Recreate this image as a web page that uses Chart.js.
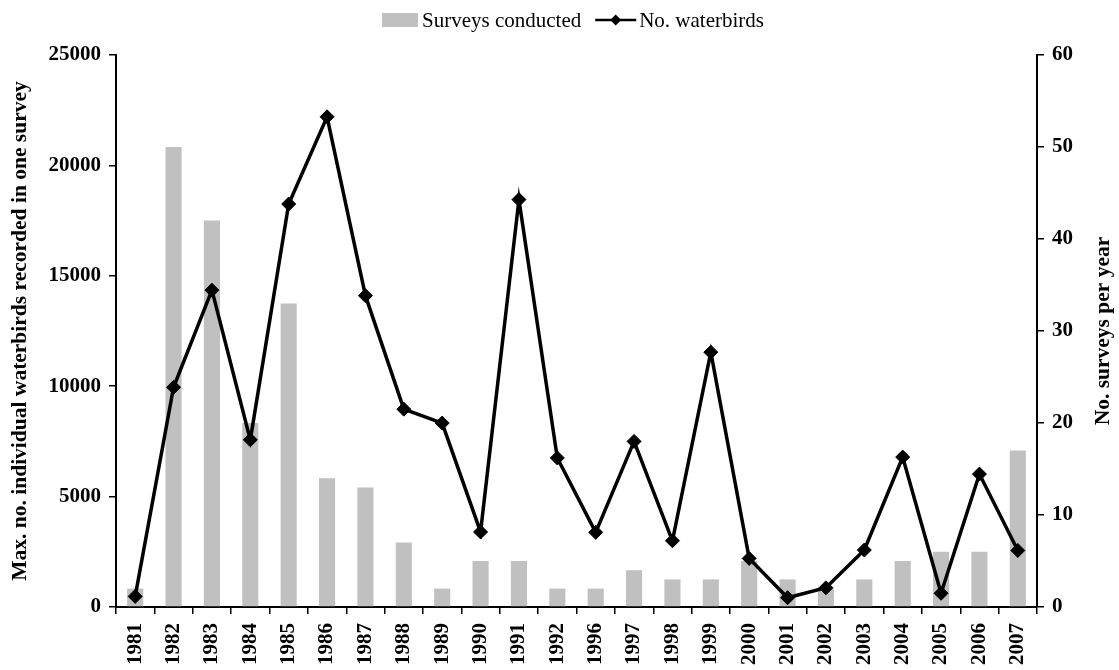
<!DOCTYPE html>
<html>
<head>
<meta charset="utf-8">
<script src="https://cdn.jsdelivr.net/npm/chart.js@4.4.1/dist/chart.umd.min.js"></script>
<style>
  html, body { margin: 0; padding: 0; background: #fff; }
  #wrap { width: 1119px; height: 670px; position: relative; }
</style>
</head>
<body>
<div id="wrap"><canvas id="waterbirdChart"></canvas></div>
<script>
const years = ['1981', '1982', '1983', '1984', '1985', '1986', '1987', '1988', '1989', '1990', '1991', '1992',
  '1996', '1997', '1998', '1999', '2000', '2001', '2002', '2003', '2004', '2005', '2006', '2007']
const surveysConducted = [2, 50, 42, 20, 33, 14, 13, 7, 2, 5, 5, 2, 2, 4, 3, 3, 5, 3, 2, 3, 5, 6, 6, 17]
const maxWaterbirds = [480, 9950, 14350, 7570, 18250, 22200, 14100, 8960, 8330, 3400, 18450, 6750,
  3380, 7500, 3000, 11540, 2200, 420, 870, 2580, 6790, 620, 6020, 2560]
const birdTicks = [0, 5000, 10000, 15000, 20000, 25000]
const surveyTicks = [0, 10, 20, 30, 40, 50, 60]

const serif = "'Liberation Serif', 'Times New Roman', serif"
const barGrey = '#c0c0c0'
const rightTitle = 'No. surveys per year'

// legend row across the top plus the right-hand axis title (reads bottom to top)
const extrasPlugin = {
  id: 'extras',
  afterDraw(chart) {
    const g = chart.ctx
    g.save()
    g.font = '21px ' + serif
    g.fillStyle = '#000'
    g.textBaseline = 'middle'
    g.textAlign = 'left'
    const t1 = 'Surveys conducted'
    const t2 = 'No. waterbirds'
    const w1 = g.measureText(t1).width
    const w2 = g.measureText(t2).width
    const total = 36 + 4 + w1 + 14 + 41 + 3 + w2
    let x = 573 - total / 2
    const cy = 20
    g.fillStyle = barGrey
    g.fillRect(x, 13, 36, 14)
    x += 40
    g.fillStyle = '#000'
    g.fillText(t1, x, cy + 1)
    x += w1 + 14
    g.strokeStyle = '#000'
    g.lineWidth = 2.5
    g.beginPath()
    g.moveTo(x, cy)
    g.lineTo(x + 41, cy)
    g.stroke()
    const mx = x + 20.5
    g.beginPath()
    g.moveTo(mx, cy - 5.5)
    g.lineTo(mx + 5.5, cy)
    g.lineTo(mx, cy + 5.5)
    g.lineTo(mx - 5.5, cy)
    g.closePath()
    g.fill()
    x += 44
    g.fillText(t2, x, cy + 1)

    const area = chart.chartArea
    g.font = 'bold 21.5px ' + serif
    g.textAlign = 'center'
    g.textBaseline = 'alphabetic'
    g.translate(1109, (area.top + area.bottom) / 2)
    g.rotate(-Math.PI / 2)
    g.fillText(rightTitle, 0, 0)
    g.restore()
  },
}

const axisGrid = { drawOnChartArea: false, drawTicks: true, tickLength: 7, color: '#000', lineWidth: 1.5 }
const axisBorder = { display: true, color: '#000', width: 2 }
const tickFont = { family: serif, size: 21, weight: 'bold' }

const ctx = document.getElementById('waterbirdChart').getContext('2d')
const chart = new Chart(ctx, {
  data: {
    labels: years,
    datasets: [
      {
        type: 'line',
        label: 'No. waterbirds',
        data: maxWaterbirds,
        yAxisID: 'y',
        borderColor: '#000',
        borderWidth: 3.5,
        pointStyle: 'rectRot',
        pointRadius: 7,
        pointBorderWidth: 1,
        pointBackgroundColor: '#000',
        pointBorderColor: '#000',
        tension: 0,
      },
      {
        type: 'bar',
        label: 'Surveys conducted',
        data: surveysConducted,
        yAxisID: 'y1',
        backgroundColor: barGrey,
        barPercentage: 0.42,
        categoryPercentage: 1.0,
      },
    ],
  },
  options: {
    responsive: true,
    maintainAspectRatio: false,
    animation: false,
    layout: { padding: { top: 55, left: 0, right: 0, bottom: 0 } },
    plugins: {
      tooltip: { enabled: false },
      legend: { display: false },
    },
    scales: {
      x: {
        type: 'category',
        offset: true,
        grid: { ...axisGrid, offset: true },
        border: axisBorder,
        ticks: {
          autoSkip: false,
          minRotation: 90,
          maxRotation: 90,
          padding: 9,
          color: '#000',
          font: tickFont,
        },
        afterFit: (s) => { s.height = 63 },
      },
      y: {
        position: 'left',
        min: 0,
        max: 25000,
        afterBuildTicks: (s) => { s.ticks = birdTicks.map((v) => ({ value: v })) },
        grid: axisGrid,
        border: axisBorder,
        ticks: {
          padding: 8,
          color: '#000',
          font: tickFont,
          callback: (v) => String(v),
        },
        title: {
          display: true,
          text: 'Max. no. individual waterbirds recorded in one survey',
          color: '#000',
          font: { family: serif, size: 21.5, weight: 'bold' },
          padding: { top: 8, bottom: 0 },
        },
        afterFit: (s) => { s.width = 116 },
      },
      y1: {
        position: 'right',
        min: 0,
        max: 60,
        afterBuildTicks: (s) => { s.ticks = surveyTicks.map((v) => ({ value: v })) },
        grid: axisGrid,
        border: axisBorder,
        ticks: {
          padding: 8,
          color: '#000',
          font: tickFont,
          callback: (v) => String(v),
        },
        afterFit: (s) => { s.width = 82 },
      },
    },
  },
  plugins: [extrasPlugin],
})
</script>
</body>
</html>
